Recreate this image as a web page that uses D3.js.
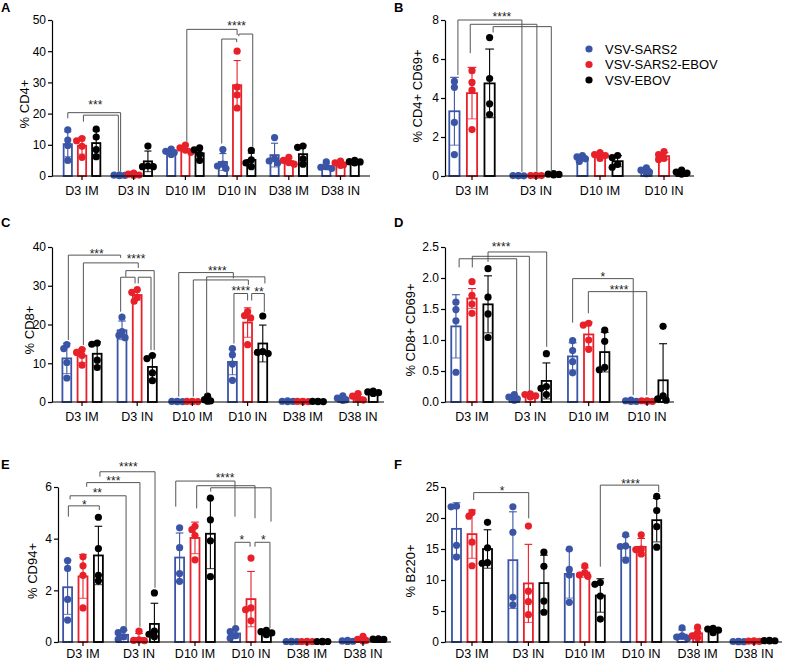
<!DOCTYPE html>
<html><head><meta charset="utf-8">
<script src="https://cdn.jsdelivr.net/npm/d3@7"></script>
<style>body{margin:0;background:#fff}svg{display:block;font-family:"Liberation Sans",Arial,Helvetica,sans-serif}</style>
</head><body><svg id="chart" width="785" height="662"></svg>
<script>
// ---------- data ----------
const seriesNames = ["VSV-SARS2", "VSV-SARS2-EBOV", "VSV-EBOV"];
const seriesColors = ["#3b55a6", "#e8202a", "#000000"];
const cats6 = ["D3 IM", "D3 IN", "D10 IM", "D10 IN", "D38 IM", "D38 IN"];
const cats4 = ["D3 IM", "D3 IN", "D10 IM", "D10 IN"];

const A_ticks = [0, 10, 20, 30, 40, 50];
const A_mean = [[10.2, 0.2, 7.7, 4.5, 6.7, 3.2], [9.7, 0.5, 8.7, 29.1, 4.8, 4.0], [10.55, 4.7, 7.3, 5.15, 7.0, 4.6]];
const A_sd = [[4.0, 0.1, 0.7, 2.7, 3.8, 0.9], [2.7, 0.3, 1.0, 7.9, 0.95, 0.64], [3.9, 3.3, 1.8, 2.2, 2.85, 0.33]];
const A_pts = [
  [[14.8, 11.5, 9.8, 5.0], [0.3, 0.2, 0.1, 0.25], [8.6, 7.9, 7.5, 6.9], [8.5, 3.8, 3.2, 2.4], [12.3, 5.5, 4.8, 4.2], [4.5, 3.0, 2.8, 2.4]],
  [[12.0, 11.3, 9.5, 6.0], [0.9, 0.6, 0.3, 0.2], [9.9, 9.0, 8.3, 7.6], [40, 28.5, 26, 21.8], [6.0, 5.0, 4.3, 3.8], [4.8, 4.2, 3.6, 3.4]],
  [[15.0, 12.5, 8.5, 6.2], [9.6, 3.2, 3.0, 3.0], [9.0, 8.4, 6.9, 5.0], [8.2, 5.2, 4.2, 3.0], [9.6, 9.2, 5.5, 3.8], [5.0, 4.6, 4.5, 4.2]]
];

const B_ticks = [0, 2, 4, 6, 8];
const B_mean = [[3.32, 0.02, 0.92, 0.26], [4.25, 0.02, 1.06, 1.02], [4.75, 0.09, 0.76, 0.19]];
const B_sd = [[1.74, 0.01, 0.13, 0.13], [1.32, 0.01, 0.12, 0.18], [1.76, 0.03, 0.28, 0.09]];
const B_pts = [
  [[4.85, 4.55, 2.75, 1.1], [0.02, 0.02, 0.01, 0.01], [1.05, 0.98, 0.88, 0.75], [0.42, 0.3, 0.2, 0.12]],
  [[5.4, 4.8, 4.4, 2.38], [0.03, 0.02, 0.02, 0.01], [1.2, 1.1, 1.05, 0.9], [1.25, 1.1, 0.9, 0.85]],
  [[7.1, 5.0, 3.7, 3.15], [0.12, 0.1, 0.08, 0.05], [1.05, 0.95, 0.6, 0.45], [0.3, 0.2, 0.15, 0.1]]
];

const C_ticks = [0, 10, 20, 30, 40];
const C_mean = [[11.25, 18.5, 0.14, 10.35, 0.19, 0.9], [11.95, 27.6, 0.14, 20.5, 0.14, 1.25], [12.45, 9.05, 0.65, 15.1, 0.14, 2.5]];
const C_sd = [[3.9, 2.4, 0.05, 3.3, 0.09, 0.52], [1.75, 1.3, 0.05, 3.8, 0.05, 0.75], [3.1, 3.1, 0.6, 4.75, 0.04, 0.26]];
const C_pts = [
  [[14.8, 13.8, 10.2, 6.2], [21.9, 18.2, 17.2, 16.6], [0.2, 0.15, 0.1, 0.1], [13.8, 12.2, 9.8, 5.6], [0.3, 0.2, 0.15, 0.1], [1.6, 1.0, 0.6, 0.4]],
  [[13.5, 12.8, 12.0, 9.5], [29.0, 28.3, 27.0, 26.0], [0.2, 0.15, 0.1, 0.1], [23.3, 22.3, 21.7, 14.8], [0.2, 0.15, 0.1, 0.1], [2.2, 1.5, 0.8, 0.5]],
  [[15.2, 14.9, 10.8, 8.9], [12.0, 11.2, 7.5, 5.5], [1.5, 0.6, 0.3, 0.2], [22.2, 13.0, 12.8, 12.5], [0.2, 0.15, 0.12, 0.1], [2.8, 2.6, 2.4, 2.2]]
];

const D_ticks = [0, 0.5, 1.0, 1.5, 2.0, 2.5];
const D_mean = [[1.22, 0.07, 0.735, 0.02], [1.67, 0.11, 1.09, 0.015], [1.575, 0.34, 0.805, 0.35]];
const D_sd = [[0.51, 0.04, 0.22, 0.01], [0.16, 0.02, 0.2, 0.005], [0.46, 0.29, 0.32, 0.59]];
const D_pts = [
  [[1.61, 1.49, 1.31, 0.48], [0.12, 0.08, 0.05, 0.03], [0.99, 0.83, 0.65, 0.47], [0.03, 0.02, 0.01, 0.01]],
  [[1.94, 1.72, 1.58, 1.43], [0.13, 0.12, 0.1, 0.08], [1.27, 1.24, 1.0, 0.85], [0.02, 0.02, 0.01, 0.01]],
  [[2.15, 1.69, 1.42, 1.04], [0.78, 0.25, 0.22, 0.12], [1.16, 0.98, 0.56, 0.52], [1.22, 0.1, 0.05, 0.03]]
];

const E_ticks = [0, 2, 4, 6];
const E_mean = [[2.12, 0.28, 3.27, 0.33, 0.02, 0.04], [2.54, 0.15, 4.03, 1.66, 0.02, 0.1], [3.35, 0.7, 4.19, 0.37, 0.02, 0.11]];
const E_sd = [[1.05, 0.17, 0.95, 0.17, 0.01, 0.02], [0.85, 0.18, 0.61, 1.07, 0.01, 0.08], [1.13, 0.8, 1.35, 0.07, 0.01, 0.01]];
const E_pts = [
  [[3.15, 2.85, 1.65, 0.85], [0.48, 0.36, 0.2, 0.1], [4.42, 3.65, 2.65, 2.35], [0.52, 0.4, 0.25, 0.15], [0.03, 0.02, 0.02, 0.01], [0.06, 0.04, 0.03, 0.02]],
  [[3.3, 2.95, 2.58, 1.32], [0.42, 0.08, 0.06, 0.05], [4.48, 4.35, 4.12, 3.18], [3.25, 1.32, 1.25, 0.82], [0.03, 0.02, 0.02, 0.01], [0.22, 0.1, 0.06, 0.04]],
  [[4.83, 3.62, 2.58, 2.37], [1.9, 0.42, 0.3, 0.2], [5.57, 4.73, 3.92, 2.53], [0.45, 0.4, 0.35, 0.28], [0.03, 0.02, 0.02, 0.01], [0.12, 0.11, 0.1, 0.1]]
];

const F_ticks = [0, 5, 10, 15, 20, 25];
const F_mean = [[18.25, 13.2, 10.98, 15.35, 1.18, 0.07], [17.4, 9.45, 11.2, 15.35, 1.4, 0.13], [15.0, 9.5, 7.5, 19.65, 1.9, 0.21]];
const F_sd = [[4.2, 7.8, 3.9, 1.7, 0.77, 0.02], [3.9, 6.3, 0.75, 1.35, 0.75, 0.05], [3.1, 4.5, 2.7, 3.5, 0.3, 0.03]];
const F_pts = [
  [[21.9, 21.8, 15.6, 13.7], [21.8, 17.7, 7.2, 6.0], [15.0, 11.7, 10.8, 6.4], [17.3, 15.5, 15.4, 13.2], [2.3, 1.0, 0.8, 0.6], [0.1, 0.08, 0.06, 0.05]],
  [[20.9, 20.3, 16.1, 12.3], [18.7, 8.2, 6.5, 4.4], [12.3, 11.2, 10.8, 10.6], [17.3, 15.0, 14.9, 14.2], [2.4, 1.5, 1.0, 0.7], [0.2, 0.15, 0.1, 0.08]],
  [[19.3, 15.2, 12.8, 12.7], [14.5, 12.2, 6.6, 4.8], [9.6, 9.3, 7.4, 3.7], [23.5, 21.2, 18.6, 15.3], [2.2, 2.1, 1.9, 1.5], [0.25, 0.22, 0.2, 0.18]]
];

// ---------- significance annotations: [group, series-slot, value] ----------
const A_lines = [
  [[0, 0, 18.5], [0, 0, 20.3], [1, 0.08, 20.3], [1, 0.08, 1.4]],
  [[0, 1.1, 17.4], [0, 1.1, 19.5], [1, -0.08, 19.5], [1, -0.08, 1.4]],
  [[2, 1.1, 11], [2, 1.1, 47], [3, 1, 47], [3, 1, 45.2]],
  [[3, 1.12, 44.8], [3, 1.12, 45.5], [3, 2.1, 45.5], [3, 2.1, 9.4]],
  [[3, -0.08, 10.4], [3, -0.08, 43.9], [3, 0.97, 43.9], [3, 0.97, 42.9]]
];
const A_stars = [["***", 0, 1.94, 23.8], ["****", 3, 0.97, 49.1]];
const B_lines = [
  [[0, 0.2, 5.18], [0, 0.2, 8.0], [1, 0.2, 8.0], [1, 0.2, 0.22]],
  [[0, 0.9, 6.3], [0, 0.9, 7.78], [1, 1.05, 7.78], [1, 1.05, 0.22]],
  [[0, 2.2, 7.36], [0, 2.2, 7.66], [1, 1.87, 7.66], [1, 1.87, 0.22]]
];
const B_stars = [["****", 0, 2.7, 8.31]];
const C_lines = [
  [[0, 0.1, 16.0], [0, 0.1, 37.9], [1, -0.09, 37.9], [1, -0.09, 37.2]],
  [[0, 1.09, 14.7], [0, 1.09, 35.9], [1, 1.07, 35.9], [1, 1.07, 34.6]],
  [[1, 0.25, 32.3], [1, 0.25, 33.9], [1, 2.12, 33.9], [1, 2.12, 13.4]],
  [[1, -0.09, 23.3], [1, -0.09, 32.2], [1, 0.86, 32.2], [1, 0.86, 30.6]],
  [[1, 1.07, 30.6], [1, 1.07, 32.2], [1, 1.91, 32.2], [1, 1.91, 13.4]],
  [[2, 0.1, 1.4], [2, 0.1, 33.4], [3, 0.06, 33.4], [3, 0.06, 31.9]],
  [[2, 1.94, 2.2], [2, 1.94, 32.3], [3, 2.14, 32.3], [3, 2.14, 30.6]],
  [[2, 1.06, 1.4], [2, 1.06, 31.5], [3, 1.05, 31.5], [3, 1.05, 30.2]],
  [[3, 0.1, 15.1], [3, 0.1, 28.0], [3, 1.0, 28.0], [3, 1.0, 26.2]],
  [[3, 1.27, 26.2], [3, 1.27, 28.0], [3, 2.1, 28.0], [3, 2.1, 23.3]]
];
const C_stars = [["***", 0, 1.97, 39.0], ["****", 1, 0.92, 37.75], ["****", 2, 2.64, 34.5], ["****", 3, 0.55, 29.3], ["**", 3, 1.75, 29.2]];
const D_lines = [
  [[0, 0.2, 2.17], [0, 0.2, 2.31], [1, 0.15, 2.31], [1, 0.15, 0.14]],
  [[0, 1.02, 2.17], [0, 1.02, 2.35], [1, 0.94, 2.35], [1, 0.94, 0.17]],
  [[0, 2, 2.26], [0, 2, 2.42], [1, 2.02, 2.42], [1, 2.02, 0.89]],
  [[2, 0, 1.28], [2, 0, 1.99], [3, 0.14, 1.99], [3, 0.14, 0.11]],
  [[2, 0.98, 1.43], [2, 0.98, 1.78], [3, 0.98, 1.78], [3, 0.98, 0.11]]
];
const D_stars = [["****", 0, 2.81, 2.54], ["*", 2, 1.88, 2.07], ["****", 2, 2.89, 1.85]];
const E_lines = [
  [[0, 0.05, 4.85], [0, 0.05, 5.27], [0, 2.06, 5.27], [0, 2.06, 5.11]],
  [[0, 0.16, 5.52], [0, 0.16, 5.66], [1, 0.16, 5.66], [1, 0.16, 0.59]],
  [[0, 1.24, 6.01], [0, 1.24, 6.17], [1, 1.06, 6.17], [1, 1.06, 0.59]],
  [[0, 2.1, 6.4], [0, 2.1, 6.59], [1, 2.04, 6.59], [1, 2.04, 2.1]],
  [[2, -0.25, 5.24], [2, -0.25, 6.23], [3, -0.04, 6.23], [3, -0.04, 4.85]],
  [[2, 1.11, 5.17], [2, 1.11, 6.05], [3, 1.26, 6.05], [3, 1.26, 4.79]],
  [[2, 2.02, 5.82], [2, 2.02, 5.97], [3, 2.3, 5.97], [3, 2.3, 4.66]],
  [[3, -0.04, 0.59], [3, -0.04, 3.86], [3, 0.94, 3.86], [3, 0.94, 3.69]],
  [[3, 1.26, 3.69], [3, 1.26, 3.86], [3, 2.23, 3.86], [3, 2.23, 0.53]]
];
const E_stars = [["*", 0, 1.08, 5.43], ["**", 0, 1.93, 5.88], ["***", 0, 2.97, 6.36], ["****", 1, 0.31, 6.88],
  ["****", 2, 2.95, 6.47], ["*", 3, 0.4, 4.05], ["*", 3, 1.8, 4.05]];
const F_lines = [
  [[0, 1.11, 22.9], [0, 1.11, 24.1], [1, 1.02, 24.1], [1, 1.02, 19.95]],
  [[2, 2.0, 12.15], [2, 2.0, 25.3], [3, 2.13, 25.3], [3, 2.13, 24.2]]
];
const F_stars = [["*", 0, 2.94, 24.8], ["****", 2, 3.95, 26.0]];

// ---------- layout ----------
const panels = [
  {letter: "A", lp: [1, 12], cats: cats6, mean: A_mean, sd: A_sd, pts: A_pts, ticks: A_ticks, fmt: d3.format("d"),
   title: "% CD4+", tp: [24, 104], yPx: [176, 20], band: [56.15, 366.35], ax: [52, 370], lines: A_lines, stars: A_stars, pad: 6.5},
  {letter: "B", lp: [394, 12], cats: cats4, mean: B_mean, sd: B_sd, pts: B_pts, ticks: B_ticks, fmt: d3.format("d"),
   title: "% CD4+ CD69+", tp: [417, 96], yPx: [176, 20], band: [440, 696], ax: [445, 694], lines: B_lines, stars: B_stars, pad: 6.5},
  {letter: "C", lp: [1, 227], cats: cats6, mean: C_mean, sd: C_sd, pts: C_pts, ticks: C_ticks, fmt: d3.format("d"),
   title: "% CD8+", tp: [29, 330], yPx: [402, 247], band: [54.4, 385.6], ax: [52, 384], lines: C_lines, stars: C_stars, pad: 6.5},
  {letter: "D", lp: [394, 227], cats: cats4, mean: D_mean, sd: D_sd, pts: D_pts, ticks: D_ticks, fmt: d3.format(".1f"),
   title: "% CD8+ CD69+", tp: [410, 330], yPx: [402, 247], band: [442.8, 676.2], ax: [445, 674], lines: D_lines, stars: D_stars, pad: 6.5},
  {letter: "E", lp: [1, 469], cats: cats6, mean: E_mean, sd: E_sd, pts: E_pts, ticks: E_ticks, fmt: d3.format("d"),
   title: "% CD94+", tp: [32, 571], yPx: [642, 487], band: [55, 391], ax: [58, 391], lines: E_lines, stars: E_stars, pad: 3},
  {letter: "F", lp: [394, 469], cats: cats6, mean: F_mean, sd: F_sd, pts: F_pts, ticks: F_ticks, fmt: d3.format("d"),
   title: "% B220+", tp: [410, 571], yPx: [642, 487], band: [443.8, 782.2], ax: [445, 782], lines: F_lines, stars: F_stars, pad: 3}
];

const svg = d3.select("#chart");
svg.append("rect").attr("width", 785).attr("height", 662).attr("fill", "#fff");
const R = 3.6;

function spread(vals, y) {
  const placed = [];
  return vals.map(v => {
    const py = y(v);
    const cands = [0, -0.85, 0.85, -1.5, 1.5].map(k => k * R);
    let best = cands[0];
    for (const dx of cands) {
      if (placed.every(p => Math.hypot(p.dx - dx, p.py - py) >= R * 1.25)) { best = dx; break; }
    }
    placed.push({dx: best, py});
    return best;
  });
}

panels.forEach(p => {
  const g = svg.append("g");
  const x = d3.scaleBand().domain(p.cats).range(p.band);
  const off = x.bandwidth() * 0.275;
  const sx = d3.scaleLinear().domain([0, 2]).range([-off, off]);
  const X = (gi, s) => x(p.cats[gi]) + x.bandwidth() / 2 + sx(s);
  const y = d3.scaleLinear().domain([0, p.ticks[p.ticks.length - 1]]).range(p.yPx);
  const bw = x.bandwidth() * 0.16;
  const cap = bw * 0.85;

  // bars
  p.mean.forEach((row, si) => row.forEach((m, gi) => {
    g.append("rect").attr("x", X(gi, si) - bw / 2).attr("y", y(m)).attr("width", bw)
      .attr("height", Math.max(0, y(0) - y(m))).attr("fill", "#fff")
      .attr("stroke", seriesColors[si]).attr("stroke-width", 1.8);
  }));
  // error bars
  p.mean.forEach((row, si) => row.forEach((m, gi) => {
    const s = p.sd[si][gi];
    const cx = X(gi, si);
    const lo = Math.max(0, m - s), hi = m + s;
    const c = seriesColors[si];
    g.append("line").attr("x1", cx).attr("x2", cx).attr("y1", y(lo)).attr("y2", y(hi)).attr("stroke", c).attr("stroke-width", 1.1);
    g.append("line").attr("x1", cx - cap / 2).attr("x2", cx + cap / 2).attr("y1", y(hi)).attr("y2", y(hi)).attr("stroke", c).attr("stroke-width", 1.1);
    if (m - s > 0) g.append("line").attr("x1", cx - cap / 2).attr("x2", cx + cap / 2).attr("y1", y(lo)).attr("y2", y(lo)).attr("stroke", c).attr("stroke-width", 1.1).attr("opacity", 0.7);
  }));
  // points
  p.pts.forEach((row, si) => row.forEach((vals, gi) => {
    const sorted = vals.slice().sort((a, b) => b - a);
    const dxs = spread(sorted, y);
    sorted.forEach((v, k) => {
      g.append("circle").attr("cx", X(gi, si) + dxs[k]).attr("cy", y(v)).attr("r", R).attr("fill", seriesColors[si]);
    });
  }));

  // axes
  const ya = d3.axisLeft(y).tickValues(p.ticks).tickFormat(p.fmt).tickSize(4).tickPadding(2).tickSizeOuter(0);
  const yg = g.append("g").attr("transform", `translate(${p.ax[0]},0)`).call(ya);
  yg.select(".domain").attr("stroke", "#000").attr("stroke-width", 1.2);
  yg.selectAll(".tick line").attr("stroke", "#000").attr("stroke-width", 1.2);
  yg.selectAll("text").attr("font-size", 12).attr("fill", "#000").attr("font-family", null);

  g.append("line").attr("x1", p.ax[0]).attr("x2", p.ax[1]).attr("y1", y(0)).attr("y2", y(0))
    .attr("stroke", "#000").attr("stroke-width", 1.2);
  const xa = d3.axisBottom(x).tickSize(4).tickPadding(p.pad).tickSizeOuter(0);
  const xg = g.append("g").attr("transform", `translate(0,${y(0)})`).call(xa);
  xg.select(".domain").remove();
  xg.selectAll(".tick line").attr("stroke", "#000").attr("stroke-width", 1.2);
  xg.selectAll("text").attr("font-size", 12.5).attr("fill", "#000").attr("font-family", null);

  // title + letter
  g.append("text").attr("transform", `translate(${p.tp[0]},${p.tp[1]}) rotate(-90)`)
    .attr("text-anchor", "middle").attr("dy", "0.35em").attr("font-size", 13).text(p.title);
  g.append("text").attr("x", p.lp[0]).attr("y", p.lp[1]).attr("font-size", 13).attr("font-weight", "bold").text(p.letter);

  // significance
  const line = d3.line().x(d => X(d[0], d[1])).y(d => y(d[2]));
  p.lines.forEach(pts => g.append("path").attr("d", line(pts)).attr("fill", "none")
    .attr("stroke", "#555").attr("stroke-width", 1));
  p.stars.forEach(s => g.append("text").attr("x", X(s[1], s[2])).attr("y", y(s[3])).attr("dy", "0.57em")
    .attr("text-anchor", "middle").attr("font-size", 12).attr("fill", "#222").text(s[0]));
});

// legend (panel B)
const lg = svg.append("g").attr("transform", "translate(589,49)");
seriesNames.forEach((n, i) => {
  lg.append("circle").attr("cx", 0).attr("cy", i * 15.5).attr("r", R).attr("fill", seriesColors[i]);
  lg.append("text").attr("x", 16).attr("y", i * 15.5).attr("dy", "0.35em").attr("font-size", 13).text(n);
});
</script></body></html>
